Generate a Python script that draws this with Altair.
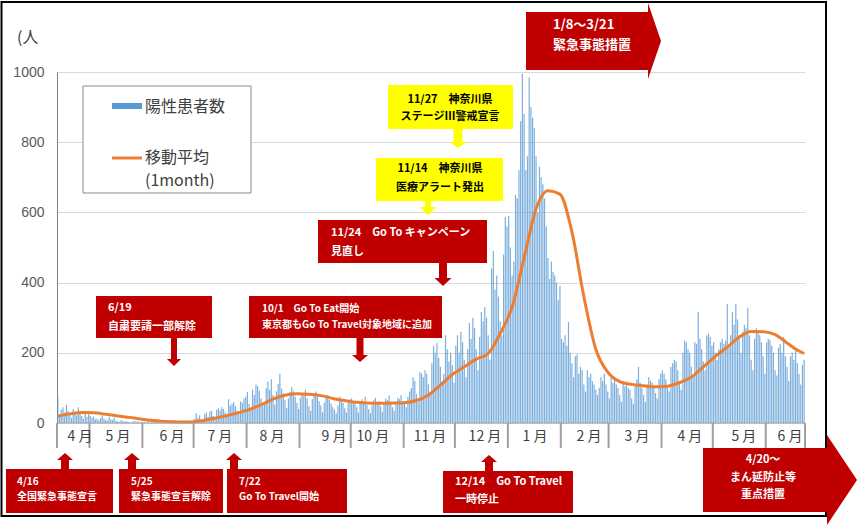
import altair as alt
import numpy as np
import pandas as pd

# ---------------- data ----------------
START = "2020-04-12"
apr20 = [72, 25, 38, 45, 30, 52, 35, 28, 15, 40, 33, 22, 45, 30, 20, 12, 35, 18, 25]
may20 = [20, 15, 18, 10, 12, 8, 14, 22, 13, 9, 7, 18, 11, 9, 15, 6, 5, 3, 8, 5,
         4, 6, 3, 2, 1, 4, 6, 3, 5, 2, 3]
jun20 = [2, 3, 1, 4, 0, 2, 1, 3, 5, 2, 0, 1, 4, 2, 3, 6, 1, 2, 4, 8,
         3, 2, 5, 1, 3, 7, 4, 2, 6, 5]
jul20 = [12, 28, 15, 22, 8, 10, 25, 30, 18, 32, 35, 20, 14, 38, 42, 36, 45, 40, 30, 22,
         68, 50, 55, 60, 48, 35, 25, 62, 58, 70, 75]
aug20 = [88, 55, 40, 95, 80, 110, 105, 92, 70, 48, 60, 100, 118, 95, 125, 80, 52, 90, 112, 140,
         98, 85, 65, 42, 70, 88, 102, 90, 75, 58, 40]
sep20 = [72, 85, 78, 95, 70, 48, 35, 68, 82, 90, 75, 62, 50, 30, 58, 72, 80, 66, 55, 45,
         38, 28, 50, 75, 62, 58, 42, 30, 60, 68]
oct20 = [70, 58, 62, 45, 30, 55, 68, 60, 75, 52, 40, 28, 50, 66, 72, 58, 62, 48, 32, 55,
         70, 65, 78, 60, 45, 35, 58, 72, 68, 80, 62]
nov20 = [60, 45, 75, 90, 100, 130, 120, 82, 60, 145, 140, 130, 150, 140, 110, 85, 170, 220, 200, 228,
         185, 160, 120, 140, 250, 210, 175, 200, 165, 115]
dec20 = [220, 250, 200, 260, 230, 180, 130, 210, 285, 240, 300, 270, 210, 150, 245, 316, 290, 330, 300, 250,
         180, 440, 490, 380, 420, 360, 290, 250, 480, 587, 560]
jan21 = [590, 500, 420, 460, 650, 640, 720, 860, 995, 880, 720, 760, 985, 900, 870, 840, 760, 600, 730, 700,
         680, 640, 560, 470, 410, 460, 430, 420, 400, 350, 390]
feb21 = [240, 230, 250, 220, 288, 200, 170, 130, 190, 195, 140, 160, 150, 110, 90, 150, 130, 140, 120, 110,
         95, 80, 100, 130, 120, 140, 110, 90]
mar21 = [70, 130, 115, 125, 110, 100, 80, 60, 120, 105, 118, 100, 95, 70, 55, 110, 125, 160, 115, 100,
         80, 60, 110, 130, 120, 115, 105, 85, 70, 125, 140]
apr21 = [150, 140, 125, 100, 90, 160, 170, 180, 175, 150, 120, 95, 200, 235, 230, 210, 200, 160, 130, 230,
         225, 316, 240, 210, 175, 150, 250, 255, 245, 220]
may21 = [230, 200, 180, 210, 230, 240, 225, 235, 339, 215, 250, 316, 280, 339, 295, 250, 200, 260, 280, 270,
         327, 250, 180, 150, 240, 270, 260, 250, 230, 190, 140]
jun21 = [230, 240, 235, 220, 200, 150, 135, 215, 225, 200, 245, 190, 160, 120, 190, 200, 180, 205, 170, 140,
         110, 165, 180]

# 1-month moving average, read every 7 days from START, plus the last day
ma_weekly = [20, 26, 30, 29, 25, 20, 16, 11, 7, 4, 3, 3, 6, 13, 20, 28, 38, 52, 68, 79,
             83, 82, 78, 70, 64, 59, 57, 56, 57, 58, 64, 80, 108, 138, 160, 182, 198, 255, 330, 470,
             610, 662, 652, 545, 360, 210, 145, 118, 110, 106, 103, 105, 115, 131, 160, 190, 216, 245, 261, 260,
             252, 228, 205]
ma_last_date = "2021-06-23"
ma_last = 198

month_labels = ["4 月", "5 月", "6 月", "7 月", "8 月", "9 月", "10 月", "11 月", "12 月",
                "1 月", "2 月", "3 月", "4 月", "5 月", "6 月"]

legend_items = ["陽性患者数", "移動平均", "(1month)"]

# ---------------- tables ----------------
daily = apr20 + may20 + jun20 + jul20 + aug20 + sep20 + oct20 + nov20 + dec20 + jan21 + feb21 + mar21 + apr21 + may21 + jun21
t0 = pd.Timestamp(START)
dates = pd.date_range(START, periods=len(daily), freq="D")
N = len(daily)
bars = pd.DataFrame({"date": dates, "cases": daily})
bars["d"] = (bars["date"] - t0).dt.days
bars["x0"] = bars["d"] + 0.15
bars["x1"] = bars["d"] + 0.85
bars["zero"] = 0

ma_dates = list(pd.date_range(START, periods=len(ma_weekly), freq="7D")) + [pd.Timestamp(ma_last_date)]
ma = pd.DataFrame({"date": ma_dates, "ma": ma_weekly + [ma_last]})
ma["xm"] = (ma["date"] - t0).dt.days + 0.5

bounds = [0] + [int(d) for d, dt in zip(bars["d"], bars["date"]) if dt.day == 1] + [N]
ticks = pd.DataFrame({"b": bounds})
# label placement (day index) as seen in the picture
label_days = [13.5, 35.7, 67.3, 95.4, 125.9, 162.2, 185.0, 218.4, 250.6, 279.9, 311.5, 339.6, 370.6, 402.2, 429.2]
labels = pd.DataFrame({"pos": label_days, "lab": month_labels})

# ---------------- layout helpers (pixels of the 857x527 page) ----------------
OX, OY = 57, 72
W, H = 748, 351
RED = "#c00000"
YEL = "#ffff00"
BLUE = "#5b9bd5"
ORANGE = "#ed7d31"
JP = "Noto Sans CJK JP"

xs = alt.Scale(domain=[0, N], nice=False, zero=False)
ys = alt.Scale(domain=[0, 1000], nice=False)

yaxis = alt.Axis(values=[0, 200, 400, 600, 800, 1000], grid=True, gridColor="#d9d9d9",
                 domainColor="#7f7f7f", ticks=False, labelFont="Liberation Sans", format="d",
                 labelFontSize=14, labelColor="#595959", labelPadding=13, title=None)

bar = alt.Chart(bars).mark_rect(color=BLUE, opacity=0.8).encode(
    x=alt.X("x0:Q", scale=xs, axis=None), x2="x1:Q",
    y=alt.Y("cases:Q", scale=ys, axis=yaxis), y2="zero:Q")

line = alt.Chart(ma).mark_line(color=ORANGE, strokeWidth=3, interpolate="monotone").encode(
    x=alt.X("xm:Q", scale=xs, axis=None), y=alt.Y("ma:Q", scale=ys))

base_rule = alt.Chart(pd.DataFrame({"a": [0]})).mark_rule(color="#a6a6a6", strokeWidth=1).encode(
    x=alt.value(0), x2=alt.value(W), y=alt.value(H))

tick_rules = alt.Chart(ticks).mark_rule(color="#a0a0a0", strokeWidth=2).encode(
    x=alt.X("b:Q", scale=xs, axis=None), y=alt.value(H), y2=alt.value(H + 25))

month_text = alt.Chart(labels).mark_text(font=JP, fontSize=14, color="#404040",
                                         baseline="middle", align="center").encode(
    x=alt.X("pos:Q", scale=xs, axis=None), y=alt.value(365), text="lab:N")


def rects(rows):
    df = pd.DataFrame(rows, columns=["x1", "y1", "x2", "y2", "fill"])
    df["x1"] -= OX; df["x2"] -= OX; df["y1"] -= OY; df["y2"] -= OY
    return df


def texts(rows):
    df = pd.DataFrame(rows, columns=["txt", "tx", "ty", "fs", "col"])
    df["tx"] -= OX; df["ty"] -= OY
    return df


# legend
legend_box = alt.Chart(rects([(83, 86, 251, 193, "white")])).mark_rect(
    stroke="#8c8c8c", strokeWidth=1).encode(
    x=alt.X("x1:Q", scale=None), x2="x2:Q", y=alt.Y("y1:Q", scale=None), y2="y2:Q",
    color=alt.Color("fill:N", scale=None))
legend_sw = alt.Chart(rects([(112, 103, 142, 109, BLUE), (112, 156.5, 142, 159.5, ORANGE)])).mark_rect().encode(
    x=alt.X("x1:Q", scale=None), x2="x2:Q", y=alt.Y("y1:Q", scale=None), y2="y2:Q",
    color=alt.Color("fill:N", scale=None))
legend_txt = alt.Chart(texts([(legend_items[0], 145, 107, 16, "#404040"),
                              (legend_items[1], 145, 158, 16, "#404040"),
                              (legend_items[2], 145, 181, 16, "#404040"),
                              ("(人", 17, 38, 16, "#404040")])).mark_text(
    font=JP, align="left", baseline="middle").encode(
    x=alt.X("tx:Q", scale=None), y=alt.Y("ty:Q", scale=None), text="txt:N",
    size=alt.Size("fs:Q", scale=None), color=alt.Color("col:N", scale=None))

# outer frame
frame = alt.Chart(rects([(1.5, 2, 826, 516, "transparent")])).mark_rect(
    stroke="#000000", strokeWidth=2).encode(
    x=alt.X("x1:Q", scale=None), x2="x2:Q", y=alt.Y("y1:Q", scale=None), y2="y2:Q",
    color=alt.Color("fill:N", scale=None))

# annotation boxes
boxes = alt.Chart(rects([
    (96, 296, 212, 338, RED),
    (249, 296, 442, 338, RED),
    (318, 220, 487, 263, RED),
    (376, 158, 503, 201, YEL),
    (388, 85, 513, 129, YEL),
    (443, 471, 573, 513, RED),
    (6, 469, 113, 513, RED),
    (119, 469, 223, 513, RED),
    (227, 469, 347, 513, RED),
])).mark_rect().encode(
    x=alt.X("x1:Q", scale=None), x2="x2:Q", y=alt.Y("y1:Q", scale=None), y2="y2:Q",
    color=alt.Color("fill:N", scale=None))

UP = "M0,0L8,7L4,7L4,16L-4,16L-4,7L-8,7Z"
shape_rows = [
    (174, 338, "M-3,0L3,0L3,21L7,21L0,28L-7,21L-3,21Z", RED),
    (360, 338, "M-3.5,0L3.5,0L3.5,17L8,17L0,24L-8,17L-3.5,17Z", RED),
    (443, 263, "M-4,0L4,0L4,15L8.5,15L0,23L-8.5,15L-4,15Z", RED),
    (428, 201, "M-3,0L3,0L3,6L8.5,6L0,14L-8.5,6L-3,6Z", YEL),
    (458, 129, "M-4.5,0L4.5,0L4.5,13L8.5,13L0,19L-8.5,13L-4.5,13Z", YEL),
    (65, 453, UP, RED), (132, 453, UP, RED), (234, 453, UP, RED), (489, 455, UP, RED),
    (526, 12, "M0,0L122,0L122,-9L135,29L122,67L122,58L0,58Z", RED),
    (703, 448, "M0,0L124,0L124,-13L154,32L124,77L124,64L0,64Z", RED),
]
sdf = pd.DataFrame(shape_rows, columns=["ax", "ay", "path", "fill"])
sdf["ax"] -= OX; sdf["ay"] -= OY
shapes = alt.Chart(sdf).mark_point(filled=True, opacity=1, size=4, strokeWidth=0).encode(
    x=alt.X("ax:Q", scale=None), y=alt.Y("ay:Q", scale=None),
    shape=alt.Shape("path:N", scale=None), color=alt.Color("fill:N", scale=None))

S = "\u3000"
left_txt = alt.Chart(texts([
    ("6/19", 108, 308, 11, "white"), ("自粛要請一部解除", 108, 327, 11, "white"),
    ("10/1" + S + "Go To Eat開始", 262, 309, 10, "white"),
    ("東京都もGo To Travel対象地域に追加", 262, 325, 10, "white"),
    ("11/24" + S + "Go To キャンペーン", 331, 233, 11, "white"), ("見直し", 331, 252, 11, "white"),
    ("1/8～3/21", 553, 25, 13, "white"), ("緊急事態措置", 553, 45, 13, "white"),
    ("12/14" + S + "Go To Travel", 455, 482, 11, "white"), ("一時停止", 455, 500, 11, "white"),
    ("4/16", 17, 482, 10, "white"), ("全国緊急事態宣言", 17, 497, 10, "white"),
    ("5/25", 131, 482, 10, "white"), ("緊急事態宣言解除", 131, 497, 10, "white"),
    ("7/22", 239, 482, 10, "white"), ("Go To Travel開始", 239, 497, 10, "white"),
])).mark_text(font=JP, fontWeight="bold", align="left", baseline="middle").encode(
    x=alt.X("tx:Q", scale=None), y=alt.Y("ty:Q", scale=None), text="txt:N",
    size=alt.Size("fs:Q", scale=None), color=alt.Color("col:N", scale=None))

center_txt = alt.Chart(texts([
    ("11/14" + S + "神奈川県", 440, 169, 11, "black"), ("医療アラート発出", 440, 188, 11, "black"),
    ("11/27" + S + "神奈川県", 450, 100, 11, "black"), ("ステージⅢ警戒宣言", 450, 117, 11, "black"),
    ("4/20～", 763, 460, 11, "white"), ("まん延防止等", 763, 478, 11, "white"), ("重点措置", 763, 495, 11, "white"),
])).mark_text(font=JP, fontWeight="bold", align="center", baseline="middle").encode(
    x=alt.X("tx:Q", scale=None), y=alt.Y("ty:Q", scale=None), text="txt:N",
    size=alt.Size("fs:Q", scale=None), color=alt.Color("col:N", scale=None))

chart = alt.layer(
    bar, line, base_rule, tick_rules, month_text,
    legend_box, legend_sw, legend_txt, frame,
    boxes, shapes, left_txt, center_txt,
).properties(
    width=W, height=H,
    padding={"left": OX, "top": OY, "right": 857 - OX - W, "bottom": 527 - OY - H},
    autosize=alt.AutoSizeParams(type="none"),
    background="white",
).configure_view(strokeWidth=0)

chart.save("out.html", embed_options={"renderer": "svg", "actions": False})
